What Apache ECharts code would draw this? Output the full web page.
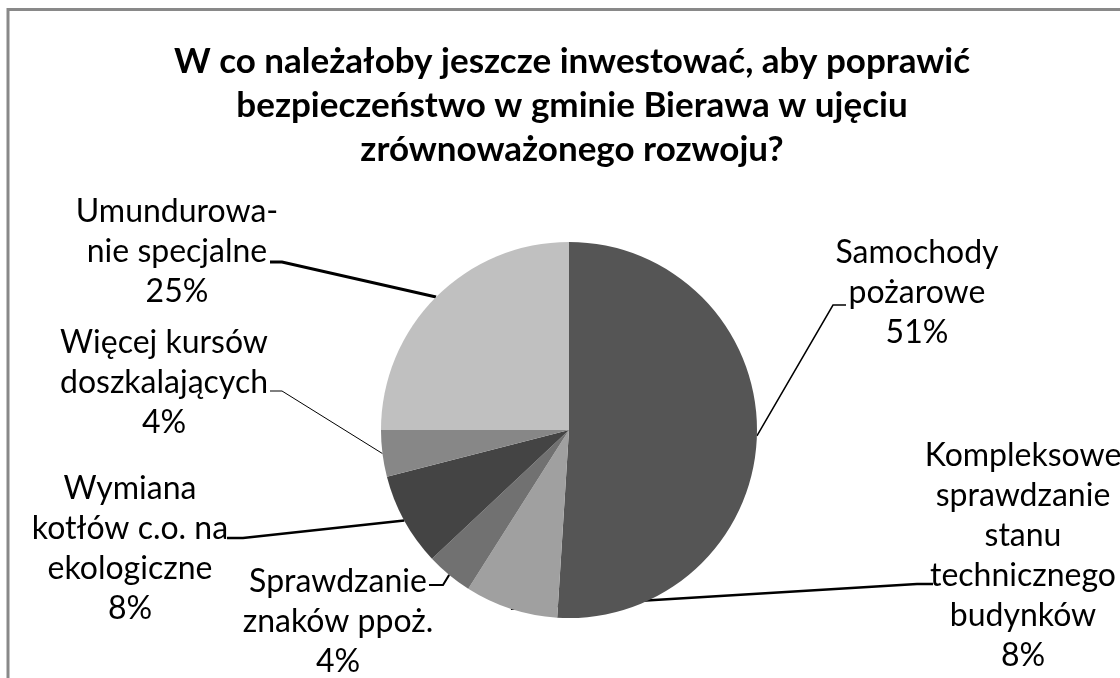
<!DOCTYPE html>
<html>
<head>
<meta charset="utf-8">
<script src="https://cdn.jsdelivr.net/npm/echarts@6/dist/echarts.min.js"></script>
<style>
  html, body { margin: 0; padding: 0; background: #fff; }
  #main { width: 1120px; height: 678px; }
</style>
</head>
<body>
<div id="main"></div>
<script>
// dane z wykresu (udział odpowiedzi w %)
const categories = [
  'Samochody\npożarowe',
  'Kompleksowe\nsprawdzanie\nstanu\ntechnicznego\nbudynków',
  'Sprawdzanie\nznaków ppoż.',
  'Wymiana\nkotłów c.o. na\nekologiczne',
  'Więcej kursów\ndoszkalających',
  'Umundurowa-\nnie specjalne'
]
const shares = [51, 8, 4, 8, 4, 25]
const sliceColors = ['#555555', '#a0a0a0', '#717171', '#444444', '#878787', '#c0c0c0']

// gdzie stoją etykiety i jak łamią się linie odniesienia
const labelPlace = [
  { x: 917, y: 293, bend: [[833, 305], [846, 305]], w: 1.5 },
  { x: 1023, y: 556, bend: [[917, 584], [933, 584]], w: 2.5 },
  { x: 338, y: 622, bend: [[443, 585], [429, 585]], w: 2 },
  { x: 130, y: 549, bend: [[243, 538], [227, 538]], w: 2.5 },
  { x: 164, y: 383, bend: [[282, 391], [270, 391]], w: 1 },
  { x: 177, y: 252, bend: [[282, 262], [270, 262]], w: 3 }
]

let chartDom = document.getElementById('main')
let myChart = echarts.init(chartDom)

let pieData = []
for (let i = 0; i < categories.length; i++) {
  pieData.push({
    name: categories[i],
    value: shares[i],
    itemStyle: { color: sliceColors[i] },
    labelLine: { lineStyle: { width: labelPlace[i].w } }
  })
}

let option = {
  backgroundColor: '#ffffff',
  animation: false,
  title: {
    text: 'W co należałoby jeszcze inwestować, aby poprawić\nbezpieczeństwo w gminie Bierawa w ujęciu\nzrównoważonego rozwoju?',
    left: 572,
    top: 40,
    padding: 0,
    textAlign: 'center',
    textStyle: {
      fontFamily: 'Lato',
      fontWeight: 'bold',
      fontSize: 35,
      lineHeight: 44,
      color: '#000'
    }
  },
  graphic: [{
    type: 'rect',
    shape: { x: 8, y: 9.5, width: 1200, height: 800 },
    style: { fill: null, stroke: '#898989', lineWidth: 3 },
    silent: true
  }],
  series: [{
    type: 'pie',
    center: [569, 430],
    radius: 188,
    startAngle: 90,
    clockwise: true,
    data: pieData,
    label: {
      show: true,
      position: 'outside',
      formatter: p => p.name + '\n' + p.value + '%',
      fontFamily: 'Lato',
      fontSize: 32,
      lineHeight: 40,
      color: '#000',
      align: 'center'
    },
    labelLine: {
      show: true,
      lineStyle: { color: '#000' }
    },
    labelLayout: function (params) {
      let lp = labelPlace[params.dataIndex]
      let start = params.labelLinePoints ? params.labelLinePoints[0] : null
      let res = {
        x: lp.x,
        y: lp.y,
        align: 'center',
        verticalAlign: 'middle'
      }
      if (start) {
        res.labelLinePoints = [start, lp.bend[0], lp.bend[1]]
      }
      return res
    },
    emphasis: { disabled: true }
  }]
}

option && myChart.setOption(option)
</script>
</body>
</html>
